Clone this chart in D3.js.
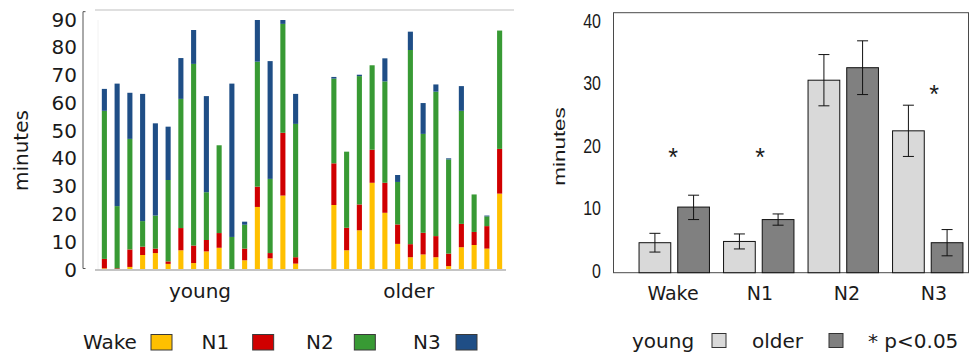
<!DOCTYPE html>
<html><head><meta charset="utf-8">
<script src="https://cdn.jsdelivr.net/npm/d3@7"></script>
<style>
html,body{margin:0;padding:0;background:#fff;}
svg{display:block;}
</style></head>
<body>
<svg id="c" width="972" height="353"></svg>
<script>
// ---------- DATA ----------
const stages = ["Wake", "N1", "N2", "N3"];
const stageColors = ["#FFC000", "#D00000", "#389A34", "#1F4E86"];

// individual subjects (minutes), left panel
const youngWake = [0.6, 0.2, 1.1, 5.4, 6.1, 2.2, 7.1, 2.5, 6.7, 8.0, 0, 3.5, 22.7, 4.2, 26.8, 2.3];
const youngN1   = [3.4, 0.4, 6.3, 3.0, 1.6, 0.9, 8.0, 6.3, 4.1, 5.3, 0, 4.2, 7.3, 1.9, 22.6, 2.3];
const youngN2   = [53.3, 22.4, 39.8, 9.2, 11.9, 29.3, 46.5, 65.4, 17.2, 31.6, 11.9, 8.6, 45.0, 26.7, 39.2, 48.0];
const youngN3   = [7.9, 44.1, 16.6, 45.8, 33.2, 19.2, 14.7, 12.2, 34.6, 0, 55.2, 1.1, 15.0, 42.4, 1.4, 10.8];

const olderWake = [23.4, 7.1, 14.3, 31.4, 20.6, 9.4, 4.6, 5.6, 4.6, 1.4, 8.2, 9.0, 7.7, 27.5];
const olderN1   = [15.0, 8.1, 9.3, 11.9, 10.8, 7.0, 4.7, 7.8, 7.6, 4.5, 8.4, 4.7, 8.1, 16.1];
const olderN2   = [30.5, 27.4, 46.2, 30.4, 36.5, 15.3, 69.9, 35.6, 52.0, 33.9, 40.7, 13.5, 3.5, 42.6];
const olderN3   = [0.6, 0, 0.5, 0, 8.3, 2.5, 6.6, 11.1, 2.6, 0.4, 8.9, 0, 0.3, 0];

const leftTicks = [0, 10, 20, 30, 40, 50, 60, 70, 80, 90];
const groupLabels = ["young", "older"];

// group means (minutes), right panel
const groups = ["young", "older"];
const groupColors = ["#D9D9D9", "#808080"];
const youngMean = [4.8, 5.0, 30.8, 22.7];
const youngHi   = [6.3, 6.2, 34.9, 26.8];
const youngLo   = [3.3, 3.8, 26.7, 18.6];
const olderMean = [10.5, 8.5, 32.8, 4.8];
const olderHi   = [12.4, 9.4, 37.1, 6.9];
const olderLo   = [8.5, 7.6, 28.5, 2.7];
const starValue = [19.4, 19.4, null, 29.5];   // * p<0.05
const rightTicks = [0, 10, 20, 30, 40];

// ---------- SVG ----------
const svg = d3.select("#c");
const txt = "#1a1a1a";
const dv = "'DejaVu Sans', Verdana, sans-serif";
const ar = "'Liberation Sans', Arial, sans-serif";

// ===== LEFT PANEL =====
const ids = [];
const rows = [];
youngWake.forEach((_, i) => { const id = "y" + i; ids.push(id);
  rows.push({id, Wake: youngWake[i], N1: youngN1[i], N2: youngN2[i], N3: youngN3[i]}); });
["g0", "g1"].forEach(id => { ids.push(id); rows.push({id, Wake: 0, N1: 0, N2: 0, N3: 0}); });
olderWake.forEach((_, i) => { const id = "o" + i; ids.push(id);
  rows.push({id, Wake: olderWake[i], N1: olderN1[i], N2: olderN2[i], N3: olderN3[i]}); });

const xL = d3.scaleBand().domain(ids).range([98, 506]).paddingInner(0.6).paddingOuter(0.3);
const yL = d3.scaleLinear().domain([0, 90]).range([270, 20]);

// frame lines
svg.append("line").attr("x1", 95).attr("x2", 514).attr("y1", yL(93.6)).attr("y2", yL(93.6))
  .attr("stroke", "#d4d4d4").attr("stroke-width", 1.5);
svg.append("line").attr("x1", 98).attr("x2", 98).attr("y1", yL(90)).attr("y2", yL(0))
  .attr("stroke", "#f2f2f2").attr("stroke-width", 1);

const stack = d3.stack().keys(stages)(rows);
svg.append("g").selectAll("g").data(stack).join("g")
  .attr("fill", (d, i) => stageColors[i])
  .selectAll("rect").data(d => d.filter(p => p[1] - p[0] > 0)).join("rect")
  .attr("x", d => xL(d.data.id))
  .attr("width", xL.bandwidth())
  .attr("y", d => yL(d[1]))
  .attr("height", d => yL(d[0]) - yL(d[1]));

svg.append("line").attr("x1", 95).attr("x2", 506).attr("y1", yL(0)).attr("y2", yL(0))
  .attr("stroke", "#c4c4c4").attr("stroke-width", 2);

// left axis
const axL = svg.append("g").attr("transform", "translate(83,0)")
  .call(d3.axisLeft(yL).tickValues(leftTicks).tickSize(0).tickPadding(6));
axL.select(".domain").remove();
axL.selectAll("text").attr("font-family", dv).attr("font-size", 20).attr("fill", txt).attr("dy", "0.3em");
svg.append("path")
  .attr("d", `M85.5,${yL(93)}H83V${yL(0) - 1.5}H85.5`)
  .attr("fill", "none").attr("stroke", "#555").attr("stroke-width", 1);

svg.append("text").attr("transform", `translate(28,${yL(43)}) rotate(-90)`)
  .attr("text-anchor", "middle").attr("font-family", dv).attr("font-size", 20).attr("fill", txt)
  .text("minutes");

// group labels
const youngCenter = (xL("y0") + xL("y15") + xL.bandwidth()) / 2;
const olderCenter = (xL("o0") + xL("o13") + xL.bandwidth()) / 2 - 8;
svg.append("g").selectAll("text").data(groupLabels).join("text")
  .attr("x", (d, i) => i === 0 ? youngCenter : olderCenter)
  .attr("y", 298).attr("text-anchor", "middle")
  .attr("font-family", dv).attr("font-size", 20).attr("fill", txt).text(d => d);

// left legend
const legTextX = [83, 201.5, 306, 413];
const legBoxX = d3.scaleLinear().domain([0, 3]).range([151, 456]);
const lg = svg.append("g");
lg.selectAll("text").data(stages).join("text")
  .attr("x", (d, i) => legTextX[i]).attr("y", 349)
  .attr("font-family", dv).attr("font-size", 20).attr("fill", txt).text(d => d);
lg.selectAll("rect").data(stages).join("rect")
  .attr("x", (d, i) => legBoxX(i)).attr("y", 334.5).attr("width", 21).attr("height", 15.5)
  .attr("fill", (d, i) => stageColors[i]).attr("stroke", "#3a3a3a").attr("stroke-width", 1);

// ===== RIGHT PANEL =====
const yR = d3.scaleLinear().domain([0, 40]).range([272.7, 22.7]);
const xR = d3.scaleBand().domain(stages).range([632, 970]);
const xSub = d3.scaleBand().domain(groups).range([-35.2, 35.2]).paddingInner(0.18);
const xLab = d3.scalePoint().domain(stages).range([673, 934]);

// box
svg.append("rect").attr("x", 613.5).attr("y", yR(41.6)).attr("width", 355)
  .attr("height", yR(0) - yR(41.6)).attr("fill", "none").attr("stroke", "#4a4a4a").attr("stroke-width", 1);

const means = [youngMean, olderMean], his = [youngHi, olderHi], los = [youngLo, olderLo];
const barData = [];
stages.forEach((s, i) => groups.forEach((g, j) =>
  barData.push({s, g, j, m: means[j][i], hi: his[j][i], lo: los[j][i]})));

const cx = d => xR(d.s) + xR.bandwidth() / 2 + xSub(d.g);
svg.append("g").selectAll("rect").data(barData).join("rect")
  .attr("x", d => cx(d)).attr("width", xSub.bandwidth())
  .attr("y", d => yR(d.m)).attr("height", d => yR(0) - yR(d.m))
  .attr("fill", d => groupColors[d.j]).attr("stroke", "#111").attr("stroke-width", 1);

const eb = svg.append("g").attr("stroke", "#111").attr("stroke-width", 1);
barData.forEach(d => {
  const mx = cx(d) + xSub.bandwidth() / 2;
  eb.append("line").attr("x1", mx).attr("x2", mx).attr("y1", yR(d.hi)).attr("y2", yR(d.lo));
  eb.append("line").attr("x1", mx - 5.5).attr("x2", mx + 5.5).attr("y1", yR(d.hi)).attr("y2", yR(d.hi));
  eb.append("line").attr("x1", mx - 5.5).attr("x2", mx + 5.5).attr("y1", yR(d.lo)).attr("y2", yR(d.lo));
});

// stars
svg.append("g").selectAll("text").data(stages.filter((s, i) => starValue[i] != null)).join("text")
  .attr("x", d => xLab(d)).attr("y", d => yR(starValue[stages.indexOf(d)]))
  .attr("dy", "0.6em").attr("text-anchor", "middle")
  .attr("font-family", ar).attr("font-size", 25).attr("fill", txt).text("*");

// right axis labels (vertically stretched text)
svg.append("g").selectAll("text").data(rightTicks).join("text")
  .attr("transform", d => `translate(601,${yR(d)}) scale(1,1.32)`)
  .attr("dy", "0.24em").attr("text-anchor", "end")
  .attr("font-family", ar).attr("font-size", 16).attr("fill", txt).text(d => d);
svg.append("text").attr("transform", `translate(565,${yR(20.2)}) scale(1,1.32) rotate(-90)`)
  .attr("text-anchor", "middle").attr("font-family", ar).attr("font-size", 17).attr("fill", txt)
  .text("minutes");

// category labels
svg.append("g").selectAll("text").data(stages).join("text")
  .attr("x", d => xLab(d)).attr("y", 300).attr("text-anchor", "middle")
  .attr("font-family", dv).attr("font-size", 19).attr("fill", txt).text(d => d);

// right legend
const rl = svg.append("g").attr("font-family", dv).attr("font-size", 20).attr("fill", txt);
const rlText = ["young", "older", "* p<0.05"];
const rlTextX = [632, 752, 868];
const rlBoxX = [712, 829];
rl.selectAll("text").data(rlText).join("text")
  .attr("x", (d, i) => rlTextX[i]).attr("y", 348).text(d => d);
rl.selectAll("rect").data(groups).join("rect")
  .attr("x", (d, i) => rlBoxX[i]).attr("y", 333.5).attr("width", 14).attr("height", 14)
  .attr("fill", (d, i) => groupColors[i]).attr("stroke", "#333").attr("stroke-width", 1);
</script>
</body></html>
